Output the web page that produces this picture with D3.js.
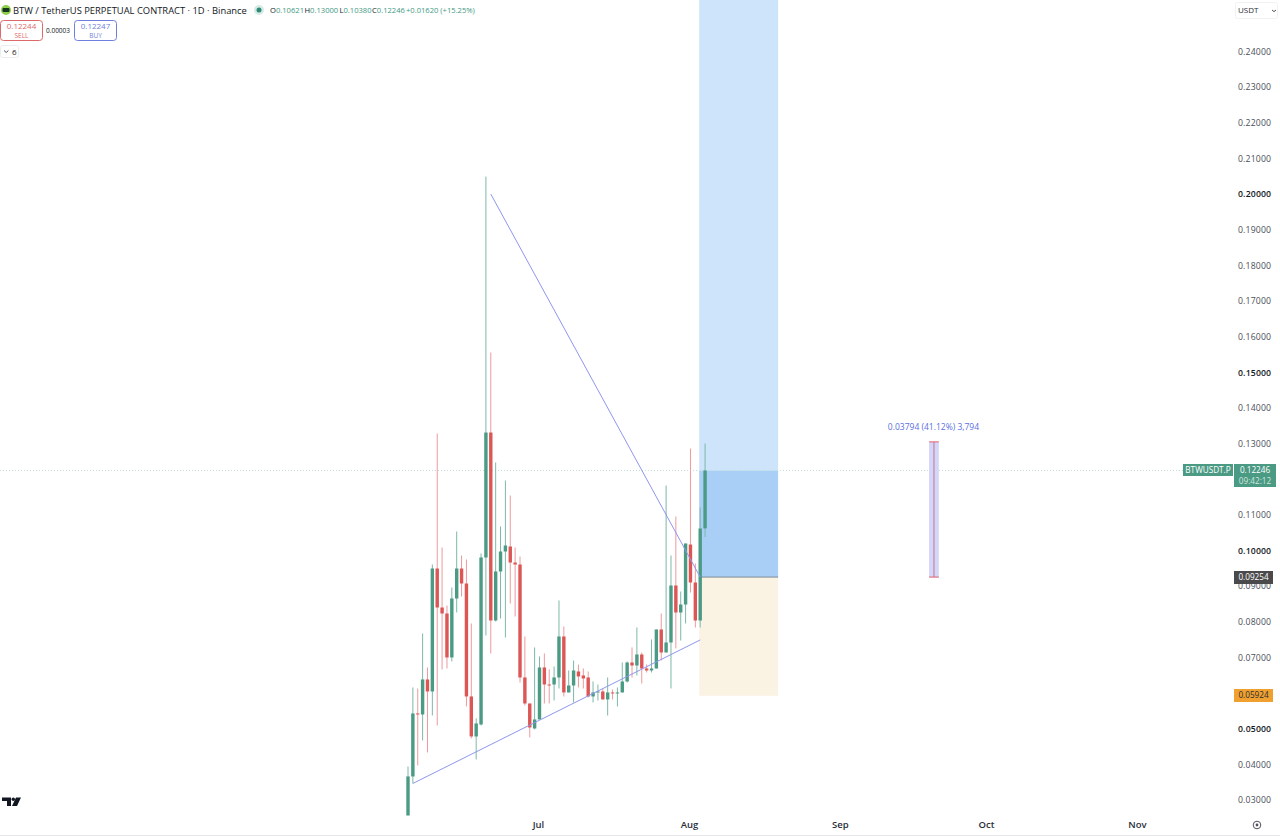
<!DOCTYPE html>
<html lang="en">
<head>
    <meta charset="UTF-8">
    <script src="https://cdnjs.cloudflare.com/ajax/libs/d3/7.8.5/d3.min.js"></script>
    <title>BTWUSDT.P</title>
    <style>
        html, body { margin: 0; background: #fff; }
        svg { display: block; }
        text { font-family: "Open Sans", "Noto Sans", sans-serif; }
    </style>
</head>
<body>
    <script>
        const width = 1280;
        const height = 837;

        // daily candles, first one is Jun 4
        const firstDay = new Date(Date.UTC(2025, 5, 4));
        const opens = [.02567,.03661,.05428,.05400,.06382,.06045,.09495,.08401,.08233,.06999,.08654,.09495,.09074,.05905,.04783,.05119,.09804,.13310,.08036,.09411,.09972,.10112,.09663,.09607,.06438,.05708,.05007,.05260,.06718,.06241,.06241,.06438,.07588,.06017,.06213,.06606,.06494,.06438,.05905,.06017,.06045,.05821,.06017,.05989,.06017,.06325,.06858,.06774,.07083,.06690,.06634,.06690,.07784,.07139,.07419,.09018,.08261,.08485,.10168,.09102,.08036,.10621];
        const highs = [.03941,.06157,.06129,.07672,.06718,.09607,.13282,.10084,.08457,.08962,.10533,.09860,.09748,.07952,.05288,.09916,.20491,.15554,.12468,.10673,.11964,.11543,.10084,.09832,.07588,.05708,.07279,.07027,.07111,.06662,.06746,.08597,.07868,.06634,.06914,.06802,.06690,.06606,.06325,.06241,.06129,.06438,.06101,.06157,.06858,.06886,.07279,.07840,.07139,.06802,.07504,.07784,.08233,.11823,.09860,.10954,.08850,.10196,.12861,.09635,.11206,.13000];
        const lows = [.02567,.03464,.03969,.04670,.04334,.05372,.05091,.06662,.06690,.06886,.08261,.08710,.05624,.04727,.04138,.05091,.07616,.07111,.08008,.08093,.07560,.08513,.08149,.06297,.05652,.04755,.04979,.05260,.05708,.05708,.05792,.06129,.05905,.06017,.05736,.06157,.06129,.05877,.05736,.05792,.05821,.05372,.05821,.05624,.06017,.06297,.06438,.06494,.06269,.06578,.06578,.06690,.06914,.07139,.06129,.07251,.07475,.07952,.08822,.07840,.07840,.10380];
        const closes = [.03661,.05428,.05400,.06382,.06045,.09495,.08401,.08233,.06999,.08654,.09495,.09074,.05905,.04783,.05147,.09804,.13310,.08036,.09411,.09972,.10140,.09663,.09607,.06438,.05708,.05035,.05260,.06718,.06241,.06213,.06438,.07588,.06017,.06213,.06634,.06466,.06410,.05905,.06017,.06045,.05821,.06017,.05989,.06017,.06325,.06858,.06774,.07083,.06690,.06634,.06690,.07784,.07139,.07419,.09018,.08261,.08485,.10196,.09102,.08036,.10617,.12246];

        // .06 and .12 sit behind the stop and last price labels
        const priceTicks = [.03,.04,.05,.07,.08,.09,.10,.11,.13,.14,.15,.16,.17,.18,.19,.20,.21,.22,.23,.24];
        const strongTicks = [.05,.10,.15,.20];
        const monthTicks = [new Date(Date.UTC(2025,6,1)), new Date(Date.UTC(2025,7,1)), new Date(Date.UTC(2025,8,1)), new Date(Date.UTC(2025,9,1)), new Date(Date.UTC(2025,10,1))];
        const monthLabels = ['Jul','Aug','Sep','Oct','Nov'];

        // drawings
        const lastPrice = .12246;
        const entryPrice = .09254;
        const stopPrice = .05924;
        const boxDates = [new Date(Date.UTC(2025,7,3)), new Date(Date.UTC(2025,7,19))];
        const measureDates = [new Date(Date.UTC(2025,8,19)), new Date(Date.UTC(2025,8,21))];
        const measurePrices = [.09254,.13048];
        const riseLine = [[new Date(Date.UTC(2025,5,5)), .03464], [new Date(Date.UTC(2025,7,3)), .07490]];
        const fallLine = [[new Date(Date.UTC(2025,5,21)), .20000], [new Date(Date.UTC(2025,7,3)), .09254]];

        const green = '#4a9a84';
        const red = '#dc5656';

        const x = d3.scaleUtc()
                    .domain([firstDay, new Date(Date.UTC(2025,10,1))])
                    .range([408, 1138.5]);
        const y = d3.scaleLinear()
                    .domain([.03, .24])
                    .range([800, 51.5]);

        const candles = opens.map(function(o, i){
            return {date: d3.utcDay.offset(firstDay, i), o: o, h: highs[i], l: lows[i], c: closes[i]};
        });

        const svg = d3.select('body').append('svg')
                    .attr('width', width)
                    .attr('height', height);

        // long position box
        const boxX = x(boxDates[0]) - 1;
        const boxW = x(boxDates[1]) - boxX;
        svg.append('rect').attr('x', boxX).attr('y', 0).attr('width', boxW).attr('height', y(lastPrice)).attr('fill', '#cde4fb');
        svg.append('rect').attr('x', boxX).attr('y', y(lastPrice)).attr('width', boxW).attr('height', y(entryPrice) - y(lastPrice)).attr('fill', '#a9cff7');
        svg.append('rect').attr('x', boxX).attr('y', y(entryPrice)).attr('width', boxW).attr('height', y(stopPrice) - y(entryPrice)).attr('fill', '#faf2e3');
        svg.append('line').attr('x1', boxX).attr('x2', boxX + boxW).attr('y1', y(entryPrice)).attr('y2', y(entryPrice)).attr('stroke', '#7d8a94').attr('stroke-width', 1);

        // last price line
        svg.append('line').attr('x1', 0).attr('x2', 1183).attr('y1', y(lastPrice)).attr('y2', y(lastPrice))
            .attr('stroke', '#c2ded6').attr('stroke-width', 1).attr('stroke-dasharray', '1 2');

        // candles
        const candle = svg.append('g').selectAll('g').data(candles).enter().append('g');
        candle.append('line')
            .attr('x1', function(d){return x(d.date);})
            .attr('x2', function(d){return x(d.date);})
            .attr('y1', function(d){return y(d.h);})
            .attr('y2', function(d){return y(d.l);})
            .attr('stroke', function(d){return d.c >= d.o ? '#7db8a8' : '#ec9a9d';})
            .attr('stroke-width', 1);
        candle.append('rect')
            .attr('x', function(d){return x(d.date) - 1.7;})
            .attr('width', 3.4)
            .attr('y', function(d){return y(Math.max(d.o, d.c));})
            .attr('height', function(d){return Math.max(1, Math.abs(y(d.o) - y(d.c)));})
            .attr('fill', function(d){return d.c >= d.o ? green : red;});

        // trend lines
        const trend = d3.line().x(function(d){return x(d[0]);}).y(function(d){return y(d[1]);});
        [riseLine, fallLine].forEach(function(pts){
            svg.append('path').attr('d', trend(pts)).attr('fill', 'none').attr('stroke', '#8f96ee').attr('stroke-width', 1);
        });

        // price range measure
        const mx0 = x(measureDates[0]), mx1 = x(measureDates[1]);
        svg.append('rect').attr('x', mx0).attr('width', mx1 - mx0).attr('y', y(measurePrices[1])).attr('height', y(measurePrices[0]) - y(measurePrices[1])).attr('fill', '#d3d5fa');
        svg.append('line').attr('x1', (mx0 + mx1) / 2).attr('x2', (mx0 + mx1) / 2).attr('y1', y(measurePrices[1])).attr('y2', y(measurePrices[0])).attr('stroke', '#c9777f');
        measurePrices.forEach(function(p){
            svg.append('line').attr('x1', mx0).attr('x2', mx1).attr('y1', y(p)).attr('y2', y(p)).attr('stroke', '#e0636b');
        });
        svg.append('text').attr('x', (mx0 + mx1) / 2 - 0.5).attr('y', 430).attr('text-anchor', 'middle')
            .attr('font-size', 8.5).attr('fill', '#5a6fe2').text('0.03794 (41.12%) 3,794');

        // axes
        const yAxis = d3.axisRight(y).tickValues(priceTicks).tickSize(0).tickFormat(d3.format('.5f'));
        const yG = svg.append('g').attr('transform', 'translate(1235,0)').call(yAxis);
        yG.select('.domain').remove();
        yG.selectAll('text')
            .attr('x', 3)
            .style('font-size', '8.7px')
            .style('letter-spacing', '0.15px')
            .attr('fill', function(d){return strongTicks.some(function(t){return Math.abs(t - d) < 1e-6;}) ? '#131722' : '#4a4e58';})
            .attr('font-weight', function(d){return strongTicks.some(function(t){return Math.abs(t - d) < 1e-6;}) ? 600 : 400;});

        const xAxis = d3.axisBottom(x).tickValues(monthTicks).tickSize(0).tickFormat(function(d, i){return monthLabels[i];});
        const xG = svg.append('g').attr('transform', 'translate(-1.5,818)').call(xAxis);
        xG.select('.domain').remove();
        xG.selectAll('text').style('font-size', '9.5px').attr('font-weight', 600).attr('fill', '#2a2e39');

        svg.append('line').attr('x1', 0).attr('x2', width).attr('y1', 835.5).attr('y2', 835.5).attr('stroke', '#e4e5e8');

        // axis labels
        function axisLabel(x0, y0, w, h, fill, txt, color) {
            svg.append('rect').attr('x', x0).attr('y', y0).attr('width', w).attr('height', h).attr('fill', fill);
            svg.append('text').attr('x', x0 + w / 2).attr('y', y0 + 9).attr('text-anchor', 'middle').attr('font-size', 8.2).attr('fill', color).text(txt);
        }
        axisLabel(1183, 464, 50, 12, '#4a9a84', 'BTWUSDT.P', '#fff');
        axisLabel(1234, 464, 42, 23, '#4a9a84', '0.12246', '#fff');
        svg.append('text').attr('x', 1255).attr('y', 484).attr('text-anchor', 'middle').attr('font-size', 8.2).attr('fill', '#cfe6df').text('09:42:12');
        axisLabel(1234, 571, 39, 13, '#4a4a4c', '0.09254', '#fff');
        axisLabel(1234, 689, 39, 13, '#f0a02e', '0.05924', '#2a2e39');

        // USDT button
        svg.append('rect').attr('x', 1235.5).attr('y', 2.5).attr('width', 42).attr('height', 16).attr('rx', 2).attr('fill', '#fff').attr('stroke', '#f2f2f3');
        svg.append('text').attr('x', 1238).attr('y', 13).attr('font-size', 8).attr('fill', '#2a2e39').text('USDT');
        svg.append('path').attr('d', 'M1272 10l2 1.6l2-1.6').attr('fill', 'none').attr('stroke', '#50535e');

        // header
        svg.append('circle').attr('cx', 6).attr('cy', 10).attr('r', 5).attr('fill', '#8ed04c');
        svg.append('rect').attr('x', 2.5).attr('y', 8).attr('width', 7).attr('height', 4).attr('rx', 1).attr('fill', '#16361f');
        svg.append('text').attr('x', 13).attr('y', 14).attr('font-size', 9.4).attr('fill', '#131722').text('BTW / TetherUS PERPETUAL CONTRACT · 1D · Binance');
        svg.append('circle').attr('cx', 259).attr('cy', 10).attr('r', 5).attr('fill', '#d6ebe6');
        svg.append('circle').attr('cx', 259).attr('cy', 10).attr('r', 2.5).attr('fill', '#2f8a76');

        const ohlcLabels = ['O','H','L','C'];
        const ohlcValues = ['0.10621','0.13000','0.10380','0.12246'];
        const ohlcX = [270, 304.5, 339.5, 372];
        ohlcLabels.forEach(function(l, i){
            const t = svg.append('text').attr('x', ohlcX[i]).attr('y', 13).attr('font-size', 7.6).attr('fill', '#131722').text(l);
            t.append('tspan').attr('fill', '#3f9a84').text(ohlcValues[i]);
        });
        svg.append('text').attr('x', 406).attr('y', 13).attr('font-size', 7.6).attr('fill', '#3f9a84').text('+0.01620 (+15.25%)');

        // buy and sell buttons
        function tradeBtn(x0, w, color, price, side) {
            svg.append('rect').attr('x', x0).attr('y', 20.5).attr('width', w).attr('height', 20).attr('rx', 3).attr('fill', '#fff').attr('stroke', color);
            svg.append('text').attr('x', x0 + w / 2).attr('y', 29).attr('text-anchor', 'middle').attr('font-size', 8).attr('fill', color).text(price);
            svg.append('text').attr('x', x0 + w / 2).attr('y', 37.5).attr('text-anchor', 'middle').attr('font-size', 6.5).attr('fill', color).text(side);
        }
        tradeBtn(0.5, 42, '#dd6a6a', '0.12244', 'SELL');
        tradeBtn(74.5, 42, '#6f7fe0', '0.12247', 'BUY');
        svg.append('text').attr('x', 58).attr('y', 33).attr('text-anchor', 'middle').attr('font-size', 6.5).attr('fill', '#131722').text('0.00003');

        svg.append('rect').attr('x', 0.5).attr('y', 45.5).attr('width', 18).attr('height', 12).attr('rx', 2).attr('fill', '#fff').attr('stroke', '#eceded');
        svg.append('path').attr('d', 'M4 50.5l2.2 2l2.2-2').attr('fill', 'none').attr('stroke', '#50535e');
        svg.append('text').attr('x', 12).attr('y', 55).attr('font-size', 8).attr('fill', '#131722').text('6');

        // logo
        svg.append('path').attr('d', 'M2 797.5h9v8.5h-4v-5h-5z M16 797.5h5l-4 8.5h-5z').attr('fill', '#131722');
        svg.append('circle').attr('cx', 13.3).attr('cy', 799.3).attr('r', 1.7).attr('fill', '#131722');

        // settings icon
        svg.append('circle').attr('cx', 1257).attr('cy', 825).attr('r', 3.8).attr('fill', 'none').attr('stroke', '#50535e');
        svg.append('circle').attr('cx', 1257).attr('cy', 825).attr('r', 1.4).attr('fill', '#50535e');
    </script>
</body>
</html>
